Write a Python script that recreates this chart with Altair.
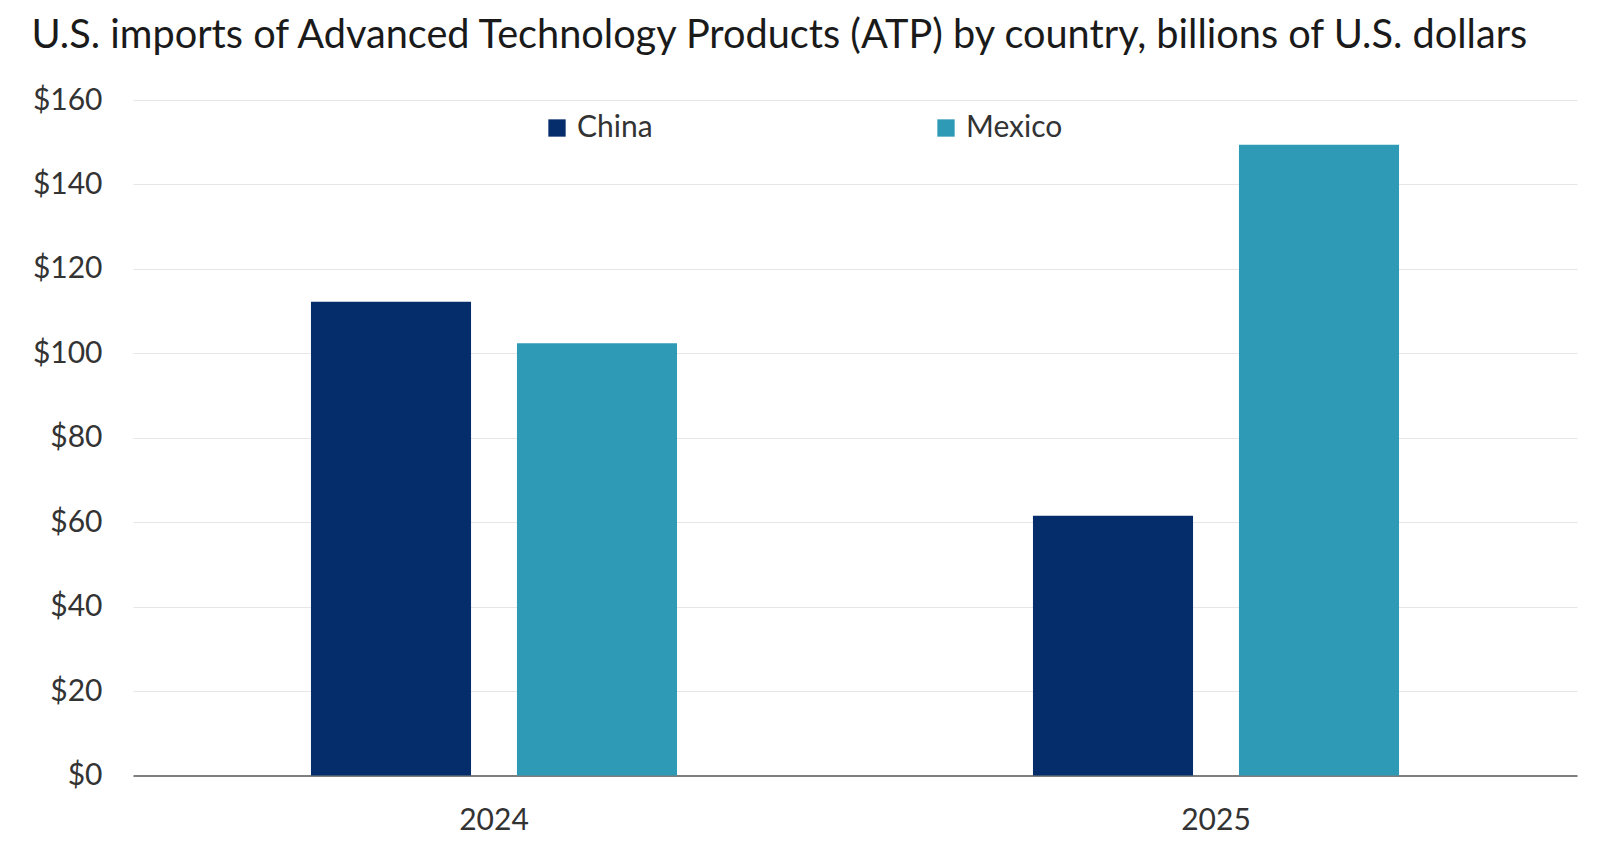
import altair as alt
import pandas as pd

years = ["2024", "2025"]
countries = ["China", "Mexico"]
china = [112.2, 61.5]
mexico = [102.4, 149.4]
y_ticks = [0, 20, 40, 60, 80, 100, 120, 140, 160]
colors = ["#052C6B", "#2E9AB6"]
title_text = "U.S. imports of Advanced Technology Products (ATP) by country, billions of U.S. dollars"

rows = []
for i, yr in enumerate(years):
    rows.append({"year": yr, "country": "China", "value": china[i]})
    rows.append({"year": yr, "country": "Mexico", "value": mexico[i]})
df = pd.DataFrame(rows)

FONT = "Lato"
TXT = "#333333"

chart = alt.Chart(df).mark_bar().encode(
    x=alt.X("year:N", sort=years,
            scale=alt.Scale(paddingInner=0.493, paddingOuter=0.2465),
            axis=alt.Axis(title=None, labelAngle=0, labelFontSize=30, labelColor=TXT,
                          labelPadding=30, ticks=False, domainColor="#7f7f7f",
                          domainWidth=2, labelFont=FONT, grid=False)),
    xOffset=alt.XOffset("country:N", sort=countries,
                        scale=alt.Scale(paddingInner=0.223, paddingOuter=0)),
    y=alt.Y("value:Q", scale=alt.Scale(domain=[0, 160], nice=False),
            axis=alt.Axis(title=None, values=y_ticks, labelExpr="'$' + datum.value",
                          labelFontSize=30, labelColor=TXT, labelFont=FONT,
                          labelPadding=31, ticks=False, domain=False,
                          gridColor="#e6e6e6", gridWidth=1)),
    color=alt.Color("country:N", sort=countries,
                    scale=alt.Scale(domain=countries, range=colors),
                    legend=alt.Legend(orient="none", legendX=409, legendY=13,
                                      direction="horizontal", title=None,
                                      labelFontSize=30, labelFont=FONT, labelColor=TXT,
                                      symbolType="square", symbolSize=300,
                                      symbolStrokeWidth=0, labelOffset=5,
                                      columnPadding=278)),
).properties(
    width=1444,
    height=675.5,
    title=alt.TitleParams(title_text, anchor="start", fontSize=39.7, font=FONT,
                          fontWeight="normal", color="#1a1a1a", offset=28, dx=-1),
    autosize=alt.AutoSizeParams(type="none"),
    padding={"left": 133, "top": 100, "right": 23, "bottom": 80},
).configure_view(stroke=None)

chart.save("out.html", embed_options={"renderer": "svg", "actions": False})
